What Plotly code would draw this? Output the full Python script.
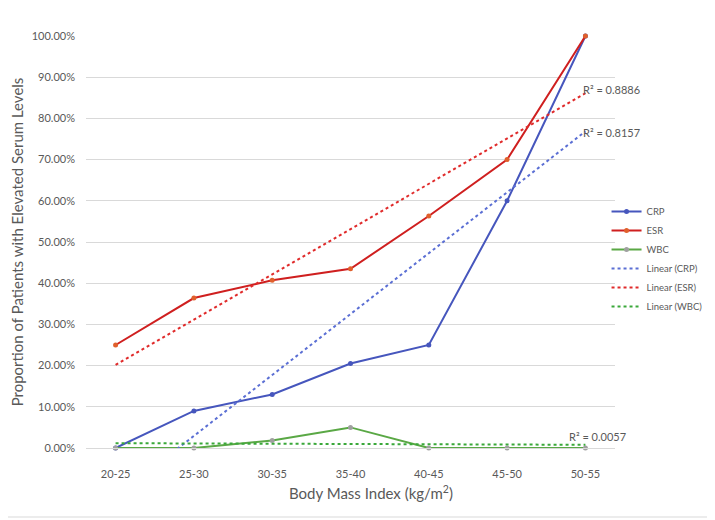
import numpy as np
import plotly.graph_objects as go

# BMI bands and the share of patients with elevated levels
bmi = ["20-25", "25-30", "30-35", "35-40", "40-45", "45-50", "50-55"]
crp = [0.0, 0.090, 0.130, 0.205, 0.250, 0.600, 1.000]
esr = [0.250, 0.364, 0.407, 0.435, 0.563, 0.700, 1.000]
wbc = [0.0, 0.0, 0.018, 0.050, 0.0, 0.0, 0.0]
r2_labels = {"CRP": "R² = 0.8157", "ESR": "R² = 0.8886", "WBC": "R² = 0.0057"}

FONT = "Lato, 'Liberation Sans', Arial, sans-serif"
GREY = "#595959"

series = [
    # name, values, line colour, marker colour, trend colour
    ("CRP", crp, "#4656bd", "#4656bd", "#5b6fd4"),
    ("ESR", esr, "#cf1f1f", "#e0602c", "#e02a2a"),
    ("WBC", wbc, "#5aa845", "#a0a0a0", "#3aa83a"),
]

fig = go.Figure()

for name, vals, lc, mc, _ in series:
    fig.add_trace(go.Scatter(
        x=bmi, y=vals, name=name, mode="lines+markers",
        line=dict(color=lc, width=2),
        marker=dict(color=mc, size=5),
        cliponaxis=False,
    ))

# Excel style linear trendlines (least squares on the category index)
idx = np.arange(1, len(bmi) + 1)
for name, vals, _, _, tc in series:
    slope, icpt = np.polyfit(idx, vals, 1)
    fig.add_trace(go.Scatter(
        x=bmi, y=slope * idx + icpt, name=f"Linear ({name})", mode="lines",
        line=dict(color=tc, width=2, dash="dot"),
        hoverinfo="skip",
    ))

# R² labels next to the end of each trendline
r2_pos = {"ESR": (0.936, 0.871), "CRP": (0.936, 0.765), "WBC": (0.909, 0.029)}
for name, (xp, yv) in r2_pos.items():
    fig.add_annotation(
        text=r2_labels[name], xref="paper", yref="y", x=xp, y=yv,
        xanchor="left", yanchor="middle", showarrow=False,
        font=dict(family=FONT, size=11, color=GREY),
    )

fig.add_annotation(
    text="Body Mass Index (kg/m<sup>2</sup>)", xref="paper", yref="paper",
    x=0.539, y=-0.109, xanchor="center", yanchor="middle", showarrow=False,
    font=dict(family=FONT, size=15, color=GREY),
)

# thin chart-area border like the Excel export (page body adds 8px offset)
fig.add_shape(
    type="rect", xref="paper", yref="paper",
    x0=-84 / 529, x1=627 / 529, y0=-69 / 412, y1=1.085,
    line=dict(color="#d9d9d9", width=1), fillcolor="rgba(0,0,0,0)", layer="below",
)

fig.update_layout(
    width=707, height=512,
    margin=dict(l=78, r=100, t=28, b=72, autoexpand=False),
    paper_bgcolor="white", plot_bgcolor="white",
    font=dict(family=FONT, size=11, color=GREY),
    showlegend=True,
    legend=dict(
        x=0.984, xanchor="left", y=0.459, yanchor="middle",
        font=dict(family=FONT, size=9.5, color=GREY),
        bgcolor="rgba(0,0,0,0)", tracegroupgap=0,
    ),
    xaxis=dict(
        showgrid=False, showline=True, linecolor="#d9d9d9", linewidth=1,
        ticks="", ticklabelstandoff=16, tickfont=dict(size=11, color=GREY),
    ),
    yaxis=dict(
        range=[0, 1.0], dtick=0.1, tickformat=".2%",
        showgrid=True, gridcolor="#d9d9d9", gridwidth=1,
        zeroline=False, showline=False, ticks="", ticklabelstandoff=10,
        tickfont=dict(size=11, color=GREY),
        title=dict(text="Proportion of Patients with Elevated Serum Levels",
                   font=dict(family=FONT, size=15, color=GREY), standoff=8),
    ),
)

fig.write_html("out.html")
